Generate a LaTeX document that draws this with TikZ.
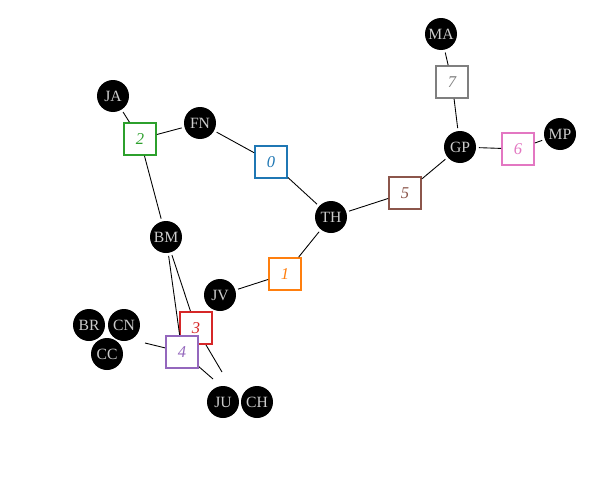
\documentclass[tikz,border=0pt]{standalone}
\usepackage{fontspec}
\setmainfont{Liberation Serif}
\usepackage{xcolor}
\usetikzlibrary{positioning}
\definecolor{c0}{HTML}{1F77B4}
\definecolor{c1}{HTML}{FF7F0E}
\definecolor{c2}{HTML}{2CA02C}
\definecolor{c3}{HTML}{D62728}
\definecolor{c4}{HTML}{9467BD}
\definecolor{c5}{HTML}{8C564B}
\definecolor{c6}{HTML}{E377C2}
\definecolor{c7}{HTML}{7F7F7F}
\definecolor{lbl}{HTML}{CCCCCC}

\begin{document}
\begin{tikzpicture}[
        x=0.02cm, y=-0.02cm,
        member/.style={circle, fill=black, text=lbl, inner sep=0pt,
            minimum size=0.64cm, outer sep=1.7pt,
            font=\fontsize{8.9}{10}\selectfont},
        hedge/.style={rectangle, draw=#1, fill=white, text=#1, line width=1pt,
            minimum size=0.64cm, inner sep=0pt,
            font=\fontsize{9.4}{10}\selectfont\itshape},
        link/.style={line width=0.5pt}
    ]
    \useasboundingbox (0,0) rectangle (602,484);

    % members
    \node[member] (MA) at (441,34) {MA};
    \node[member] (GP) at (460,147) {GP};
    \node[member] (MP) at (560,134) {MP};
    \node[member] (TH) at (331,217) {TH};
    \node[member] (FN) at (200,123) {FN};
    \node[member] (JA) at (113,96) {JA};
    \node[member] (BM) at (166,237) {BM};
    \node[member] (JV) at (220,295) {JV};
    \node[member] (BR) at (89,325) {BR};
    \node[member] (CN) at (124,325) {CN};
    \node[member] (CC) at (107,354) {CC};
    \node[member] (JU) at (223,402) {JU};
    \node[member] (CH) at (257,402) {CH};

    % free ends towards the groups
    \coordinate (BCC) at (145,343);
    \coordinate (JC3) at (222,372);
    \coordinate (JC4) at (213,379);

    % hyperedges
    \node[hedge=c0] (E0) at (271,162) {0};
    \node[hedge=c1] (E1) at (285,274) {1};
    \node[hedge=c2] (E2) at (140,139) {2};
    \node[hedge=c5] (E5) at (405,193) {5};
    \node[hedge=c6] (E6) at (518,149) {6};
    \node[hedge=c7] (E7) at (452,82) {7};

    \draw[link] (FN) -- (E0);
    \draw[link] (E0) -- (TH);
    \draw[link] (TH) -- (E1);
    \draw[link] (E1) -- (JV);
    \draw[link] (JA) -- (E2);
    \draw[link] (FN) -- (E2);
    \draw[link] (BM) -- (E2);
    \draw[link] (TH) -- (E5);
    \draw[link] (E5) -- (GP);
    \draw[link] (GP) -- (E6);
    \draw[link] (E6) -- (MP);
    \draw[link] (MA) -- (E7);
    \draw[link] (E7) -- (GP);

    \draw[link] (BM) -- (196,328) coordinate (M3);
    \draw[link] (M3) -- (JC3);
    \node[hedge=c3] (E3) at (M3) {3};
    \draw[link] (BM) -- (182,352) coordinate (M4);
    \draw[link] (M4) -- (JC4);
    \draw[link] (BCC) -- (M4);
    \node[hedge=c4] (E4) at (M4) {4};

\end{tikzpicture}
\end{document}
